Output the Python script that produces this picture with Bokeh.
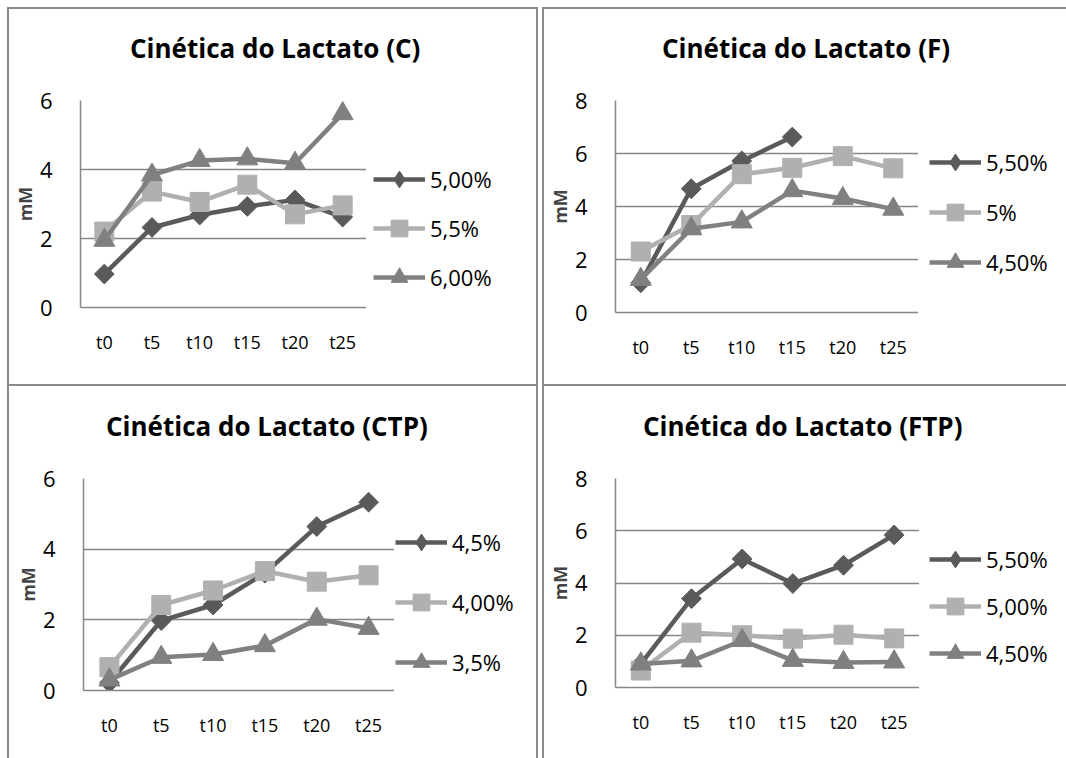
import math

from bokeh.embed import file_html
from bokeh.layouts import column, row
from bokeh.models import Div, FactorRange, FixedTicker, Legend, LegendItem, Range1d
from bokeh.plotting import figure
from bokeh.resources import INLINE

NaN = float("nan")

# sampling times (minutes)
times = ["t0", "t5", "t10", "t15", "t20", "t25"]

# lactate (mM) per condition
c_labels = ["5,00%", "5,5%", "6,00%"]
c_500 = [0.97, 2.32, 2.68, 2.93, 3.12, 2.62]
c_550 = [2.20, 3.36, 3.06, 3.56, 2.70, 2.96]
c_600 = [1.95, 3.84, 4.26, 4.31, 4.18, 5.62]

f_labels = ["5,50%", "5%", "4,50%"]
f_550 = [1.12, 4.67, 5.72, 6.62, NaN, NaN]
f_500 = [2.30, 3.30, 5.22, 5.46, 5.90, 5.44]
f_450 = [1.25, 3.16, 3.42, 4.60, 4.30, 3.90]

ctp_labels = ["4,5%", "4,00%", "3,5%"]
ctp_45 = [0.22, 1.98, 2.42, 3.32, 4.64, 5.33]
ctp_40 = [0.66, 2.42, 2.83, 3.38, 3.08, 3.26]
ctp_35 = [0.30, 0.94, 1.02, 1.27, 2.02, 1.76]

ftp_labels = ["5,50%", "5,00%", "4,50%"]
ftp_550 = [0.90, 3.40, 4.92, 3.98, 4.68, 5.84]
ftp_500 = [0.65, 2.10, 2.00, 1.87, 2.02, 1.88]
ftp_450 = [0.90, 1.02, 1.80, 1.04, 0.96, 0.98]

FONT = "Open Sans"
GRID = "#868686"
BORDER = "#8a8a8a"
COLORS = ["#5a5a5a", "#b0b0b0", "#808080"]
LINE_W = 4.5
TITLE_H = 60
KEY_H = 42  # legend row height; the key markers scale with it


def draw_series(fig, i, xs, ys, color):
    """Line plus markers for one series; returns the renderers for its legend entry."""
    lr = fig.line(xs, ys, line_color=color, line_width=LINE_W)
    if i == 0:
        # diamonds: a square turned 45 degrees, with a plain diamond of the
        # same colour inside it that also represents it in the legend
        fig.scatter(xs, ys, marker="square", size=14, angle=math.pi / 4,
                    fill_color=color, line_color=color)
        sr = fig.scatter(xs, ys, marker="diamond", size=18,
                         fill_color=color, line_color=color)
    elif i == 1:
        sr = fig.scatter(xs, ys, marker="square", size=19,
                         fill_color=color, line_color=color)
    else:
        sr = fig.scatter(xs, ys, marker="triangle", size=21,
                         fill_color=color, line_color=color)
    return [lr, sr]


def panel(title, labels, series, ymax, w, h, left, frame_right, top, bottom,
          title_left, title_top, leg_x, leg_y, leg_spacing):
    head = Div(
        text=(f'<div style="font-family:\'{FONT}\';font-size:26px;font-weight:bold;'
              f'color:#000000;white-space:nowrap;line-height:normal;'
              f'padding-left:{title_left}px;padding-top:{title_top}px">{title}</div>'),
        width=w, height=TITLE_H, margin=0,
    )

    p = figure(
        x_range=FactorRange(*times, range_padding=0),
        y_range=Range1d(0, ymax),
        width=frame_right, height=h - TITLE_H,
        min_border_left=left, min_border_right=0,
        min_border_top=top - TITLE_H, min_border_bottom=bottom,
        toolbar_location=None, output_backend="svg",
        background_fill_color="white", border_fill_color="white",
        outline_line_color=None,
    )

    p.xgrid.grid_line_color = None
    p.ygrid.grid_line_color = GRID
    p.ygrid.grid_line_width = 1.5
    p.yaxis.ticker = FixedTicker(ticks=list(range(0, ymax + 1, 2)))

    for ax in (p.xaxis[0], p.yaxis[0]):
        ax.axis_line_color = GRID
        ax.axis_line_width = 1.5
        ax.major_tick_line_color = None
        ax.minor_tick_line_color = None
        ax.major_label_text_font = FONT
        ax.major_label_text_color = "#000000"
    p.xaxis.major_label_text_font_size = "18px"
    p.xaxis.major_label_standoff = 16
    p.yaxis.major_label_text_font_size = "22px"
    p.yaxis.major_label_standoff = 22
    p.yaxis.axis_label = "mM"
    p.yaxis.axis_label_text_font = FONT
    p.yaxis.axis_label_text_font_size = "18px"
    p.yaxis.axis_label_text_font_style = "bold"
    p.yaxis.axis_label_standoff = 0

    for i, (ys, color) in enumerate(zip(series, COLORS)):
        draw_series(p, i, times, ys, color)

    # legend column to the right of the plot area; the series are drawn
    # here too, but its y range lies above the data so only the key shows
    lp = figure(
        width=w - frame_right, height=h - TITLE_H,
        x_range=FactorRange(*times), y_range=Range1d(100, 101),
        x_axis_type=None, y_axis_type=None,
        min_border=0, toolbar_location=None, output_backend="svg",
        background_fill_color="white", border_fill_color="white",
        outline_line_color=None,
    )
    lp.xgrid.grid_line_color = None
    lp.ygrid.grid_line_color = None
    items = []
    for i, (lab, ys, color) in enumerate(zip(labels, series, COLORS)):
        items.append(LegendItem(label=lab, renderers=draw_series(lp, i, times, ys, color)))
    leg = Legend(items=items, location=(leg_x, leg_y), orientation="vertical",
                 glyph_width=52, glyph_height=KEY_H, label_height=KEY_H,
                 spacing=leg_spacing, padding=0, margin=0, label_standoff=5,
                 border_line_color=None, background_fill_alpha=0,
                 label_text_font=FONT, label_text_font_size="22px",
                 label_text_color="#000000")
    lp.add_layout(leg, "center")
    return column(head, row(p, lp, spacing=0), spacing=0)


def boxed(content, sides):
    return column(content, styles={s: "2px solid " + BORDER for s in sides})


p_c = panel("Cinética do Lactato (C)", c_labels, [c_500, c_550, c_600], 6,
            527, 375, 67, 357, 91, 77, 121, 21, 7, 9, 7)
p_f = panel("Cinética do Lactato (F)", f_labels, [f_550, f_500, f_450], 8,
            522, 375, 68, 374, 91, 72, 118, 21, 11, 29, 8)
p_ctp = panel("Cinética do Lactato (CTP)", ctp_labels, [ctp_45, ctp_40, ctp_35], 6,
              527, 372, 74, 385, 92, 68, 97, 22, 1, 7, 18)
p_ftp = panel("Cinética do Lactato (FTP)", ftp_labels, [ftp_550, ftp_500, ftp_450], 8,
              522, 372, 70, 375, 92, 71, 99, 22, 10, 13, 5)

layout = column(
    row(boxed(p_c, ["border-top", "border-left", "border-right"]),
        boxed(p_f, ["border-top", "border-left"]), spacing=4),
    row(boxed(p_ctp, ["border-top", "border-left", "border-right"]),
        boxed(p_ftp, ["border-top", "border-left"]), spacing=4),
    spacing=0,
    margin=(7, 0, 0, 7),
)

with open("out.html", "w") as fh:
    fh.write(file_html(layout, INLINE))
